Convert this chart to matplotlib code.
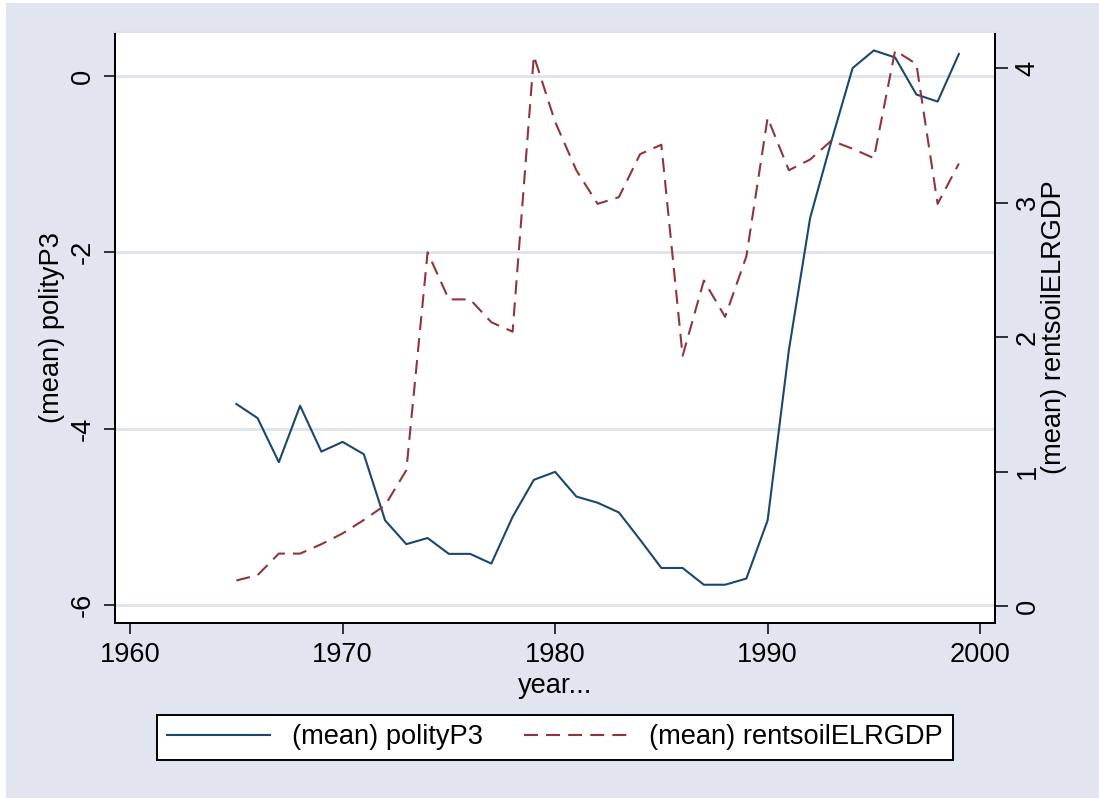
import numpy as np
import matplotlib.pyplot as plt
from matplotlib.patches import Rectangle

plt.rcParams['font.family'] = ['Liberation Sans', 'DejaVu Sans']

years = list(range(1965, 2000))
polity = [-3.72, -3.88, -4.38, -3.74, -4.26, -4.15, -4.29, -5.04, -5.31, -5.24,
          -5.42, -5.42, -5.53, -5.00, -4.58, -4.49, -4.77, -4.84, -4.95, -5.26,
          -5.58, -5.58, -5.77, -5.77, -5.70, -5.04, -3.11, -1.61, -0.74, 0.09,
          0.29, 0.21, -0.21, -0.29, 0.25]
rents = [0.19, 0.23, 0.39, 0.39, 0.46, 0.54, 0.64, 0.75, 1.01, 2.63,
         2.28, 2.28, 2.11, 2.04, 4.09, 3.60, 3.24, 2.99, 3.04, 3.36,
         3.43, 1.86, 2.42, 2.15, 2.60, 3.63, 3.24, 3.32, 3.46, 3.40,
         3.33, 4.13, 4.03, 2.99, 3.29]

xticks = [1960, 1970, 1980, 1990, 2000]
lticks = [0, -2, -4, -6]
rticks = [0, 1, 2, 3, 4]

bg = '#e0e5ef'
blue = '#1a476f'
red = '#90353b'
fs = 19.6

fig = plt.figure(figsize=(10.99, 7.98), dpi=100, facecolor='white')
# grey graph region with a thin white strip on the left / top
fig.patches.append(Rectangle((6/1099, 0), 1, 1 - 3/798, transform=fig.transFigure,
                             facecolor=bg, edgecolor='none', zorder=-10))

ax = fig.add_axes([115/1099, 1 - 623/798, 880/1099, 591/798])
ax.set_facecolor('white')
ax.set_xlim(1959.29, 2000.7)
ax.set_ylim(-6.204, 0.499)

for t in lticks:
    ax.axhline(t, color='#dde2ed', lw=2, zorder=0)

l1, = ax.plot(years, polity, color=blue, lw=1.5, label='(mean) polityP3', zorder=3)

ax2 = ax.twinx()
ax2.set_ylim(-0.126, 4.268)
l2, = ax2.plot(years, rents, color=red, lw=1.5, dashes=(6.7, 3.9),
               label='(mean) rentsoilELRGDP')

ax.set_xticks(xticks)
ax.set_yticks(lticks)
ax.set_yticklabels([str(t) for t in lticks], rotation=90, va='center')
ax2.set_yticks(rticks)
ax2.set_yticklabels([str(t) for t in rticks], rotation=90, va='center')

for a in (ax, ax2):
    for s in a.spines.values():
        s.set_linewidth(1.4)
        s.set_color('black')
    a.spines['top'].set_color('#dde2ed')
ax.tick_params(axis='x', direction='out', length=8, width=1.1, labelsize=fs, pad=5.5)
ax.tick_params(axis='y', direction='out', length=8, width=1.1, labelsize=fs, pad=6)
ax2.tick_params(axis='y', direction='out', length=9, width=1.1, labelsize=fs, pad=5)

ax.set_xlabel('year...', fontsize=fs, va='center')
ax.xaxis.set_label_coords(0.5, -(686 - 623) / 591)
ax.set_ylabel('(mean) polityP3', fontsize=fs, va='center')
ax.yaxis.set_label_coords((52 - 115) / 880, 0.5)
ax2.set_ylabel('(mean) rentsoilELRGDP', fontsize=fs, va='center')
ax2.yaxis.set_label_coords((1054 - 115) / 880, 0.5)

leg = fig.legend([l1, l2], ['(mean) polityP3', '(mean) rentsoilELRGDP'],
                 loc='center', bbox_to_anchor=(555/1099, 1 - 737.5/798),
                 ncol=2, fontsize=fs, handlelength=3.8, handletextpad=0.8,
                 columnspacing=1.5, frameon=True, fancybox=False,
                 framealpha=1, borderpad=0.35, borderaxespad=0)
leg.get_frame().set_edgecolor('black')
leg.get_frame().set_linewidth(1.4)

fig.savefig('out.png', dpi=100, facecolor=fig.get_facecolor())
